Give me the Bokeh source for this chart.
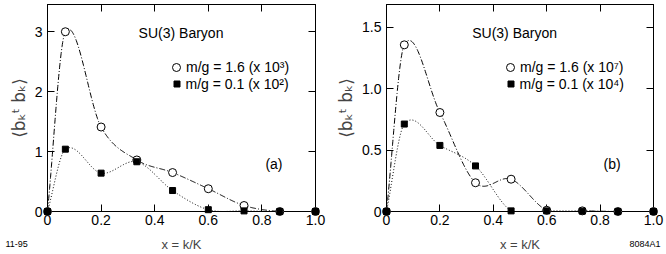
import numpy as np
from bokeh.plotting import figure
from bokeh.layouts import row
from bokeh.models import (Range1d, LinearAxis, FixedTicker, Label, Legend, LegendItem,
                          CustomLabelingPolicy)
from bokeh.core.properties import value
from bokeh.embed import file_html
from bokeh.resources import INLINE

# ---- data (x = k/K, K = 15) ----
x_k = [0, 1/15, 3/15, 5/15, 7/15, 9/15, 11/15, 13/15, 1.0]
a_heavy = [0, 3.0, 1.41, 0.86, 0.65, 0.38, 0.10, 0, 0]      # m/g = 1.6 (x 10^3)
a_light = [0, 1.04, 0.64, 0.83, 0.35, 0.03, 0.01, 0, 0]     # m/g = 0.1 (x 10^2)
b_heavy = [0, 1.357, 0.806, 0.234, 0.263, 0.01, 0.005, 0, 0]  # m/g = 1.6 (x 10^7)
b_light = [0, 0.712, 0.538, 0.371, 0.005, 0.005, 0.003, 0, 0]  # m/g = 0.1 (x 10^4)

x_ticks = [0, 0.2, 0.4, 0.6, 0.8, 1.0]
x_tick_labels = ["0", "0.2", "0.4", "0.6", "0.8", "1.0"]
a_y_ticks = [0, 1, 2, 3]
a_y_tick_labels = ["0", "1", "2", "3"]
b_y_ticks = [0, 0.5, 1.0, 1.5]
b_y_tick_labels = ["0", "0.5", "1.0", "1.5"]

a_labels = ["m/g = 1.6 (x 10³)", "m/g = 0.1 (x 10²)"]
b_labels = ["m/g = 1.6 (x 10⁷)", "m/g = 0.1 (x 10⁴)"]

FONT = "Liberation Sans"


def smooth(xs, ys, per=60):
    """Catmull-Rom style cubic Hermite curve through the data points."""
    xs = np.asarray(xs, float)
    ys = np.asarray(ys, float)
    n = len(xs)
    m = np.zeros(n)
    m[0] = (ys[1] - ys[0]) / (xs[1] - xs[0])
    m[-1] = (ys[-1] - ys[-2]) / (xs[-1] - xs[-2])
    for i in range(1, n - 1):
        m[i] = (ys[i + 1] - ys[i - 1]) / (xs[i + 1] - xs[i - 1])
    ox, oy = [], []
    s = np.linspace(0, 1, per)
    for i in range(n - 1):
        h = xs[i + 1] - xs[i]
        h00 = 2 * s ** 3 - 3 * s ** 2 + 1
        h10 = s ** 3 - 2 * s ** 2 + s
        h01 = -2 * s ** 3 + 3 * s ** 2
        h11 = s ** 3 - s ** 2
        ox.extend(xs[i] + s * h)
        oy.extend(h00 * ys[i] + h10 * h * m[i] + h01 * ys[i + 1] + h11 * h * m[i + 1])
    return ox, oy


def style_axis(ax, ticks, labels, show):
    ax.ticker = FixedTicker(ticks=ticks)
    ax.major_tick_in = 7
    ax.major_tick_out = 0
    ax.minor_tick_in = 0
    ax.minor_tick_out = 0
    ax.axis_line_color = "black"
    ax.major_tick_line_color = "black"
    if show:
        ax.major_label_overrides = {t: l for t, l in zip(ticks, labels)}
        ax.major_label_text_font = FONT
        ax.major_label_text_font_size = "14px"
        ax.major_label_text_color = "black"
        ax.major_label_standoff = 3
    else:
        # tick marks only: labels are never drawn and take (almost) no room
        ax.major_label_policy = CustomLabelingPolicy(code="return false")
        ax.major_label_text_font_size = "1px"
        ax.major_label_standoff = 0


def panel(heavy, light, y_end, yt, ytl, labels, min_left, min_right,
          su_xy, tag, tag_xy, leg_c, leg_s, foot, foot_xy, foot_align):
    p = figure(width=333, height=254, x_range=Range1d(0, 1), y_range=Range1d(0, y_end),
               output_backend="svg", toolbar_location=None,
               x_axis_type=None, y_axis_type=None,
               min_border_left=min_left, min_border_right=min_right,
               min_border_top=0, min_border_bottom=42)
    p.outline_line_color = "black"
    p.background_fill_color = "white"
    p.border_fill_color = "white"

    bx = LinearAxis(axis_label="x = k/K")
    style_axis(bx, x_ticks, x_tick_labels, True)
    bx.axis_label_text_font = FONT
    bx.axis_label_text_font_size = "13px"
    bx.axis_label_text_font_style = "normal"
    bx.axis_label_standoff = 9
    p.add_layout(bx, "below")

    ly = LinearAxis(axis_label="⟨bₖᵗ bₖ⟩")
    style_axis(ly, yt, ytl, True)
    ly.major_label_standoff = 5
    ly.axis_label_text_font = "DejaVu Sans"
    ly.axis_label_text_font_size = "17px"
    ly.axis_label_text_font_style = "normal"
    ly.axis_label_standoff = 3
    p.add_layout(ly, "left")

    tx = LinearAxis()
    style_axis(tx, x_ticks, x_tick_labels, False)
    p.add_layout(tx, "above")
    ry = LinearAxis()
    style_axis(ry, yt, ytl, False)
    p.add_layout(ry, "right")

    xh, yh = smooth(x_k, heavy)
    xl, yl = smooth(x_k, light)
    p.line(xh, yh, line_color="black", line_width=1, line_dash="6 2 1 2")
    p.line(xl, yl, line_color="black", line_width=1, line_dash="1 2")

    rc = p.scatter(x_k, heavy, marker="circle", size=8, fill_color="white",
                   line_color="black", line_width=1, level="overlay")
    rs = p.scatter(x_k, light, marker="square", size=6, fill_color="black",
                   line_color="black", line_width=1, level="overlay")

    p.add_layout(Label(x=su_xy[0], y=su_xy[1], text="SU(3) Baryon", text_font=FONT,
                       text_font_size="14px", text_baseline="middle", text_color="black"))
    p.add_layout(Label(x=tag_xy[0], y=tag_xy[1], text=tag, text_font=FONT,
                       text_font_size="14px", text_baseline="middle", text_color="black"))

    for rend, lab, loc, gh in ((rc, labels[0], leg_c, 20), (rs, labels[1], leg_s, 15)):
        lg = Legend(items=[LegendItem(label=lab, renderers=[rend])], location=loc,
                    glyph_width=gh, glyph_height=gh, label_height=gh, label_width=10,
                    label_standoff=0 if gh == 20 else 2, padding=0, margin=0,
                    border_line_color=None, background_fill_alpha=0,
                    label_text_font=FONT, label_text_font_size="14px",
                    label_text_color="black")
        p.add_layout(lg)

    # figure footnote (outside the frame, so drawn at overlay level)
    p.text(x=[foot_xy[0]], y=[foot_xy[1]], text=[foot], level="overlay",
           text_font=value(FONT), text_font_size="9px", text_baseline="middle",
           text_align=foot_align, text_color="black")
    return p


pa = panel(a_heavy, a_light, 209 / 60.5, a_y_ticks, a_y_tick_labels, a_labels, 47, 18,
           (0.34, 2.976), "(a)", (0.813, 0.793), (119, 133.7), (121.5, 119.5),
           "11-95", (-0.157, -0.545), "left")
pb = panel(b_heavy, b_light, 209 / 124.0, b_y_ticks, b_y_tick_labels, b_labels, 52, 13,
           (0.321, 1.452), "(b)", (0.813, 0.387), (114, 133.7), (116.5, 119.5),
           "8084A1", (1.026, -0.266), "right")

layout = row(pa, pb)
open("out.html", "w").write(file_html(layout, INLINE))
